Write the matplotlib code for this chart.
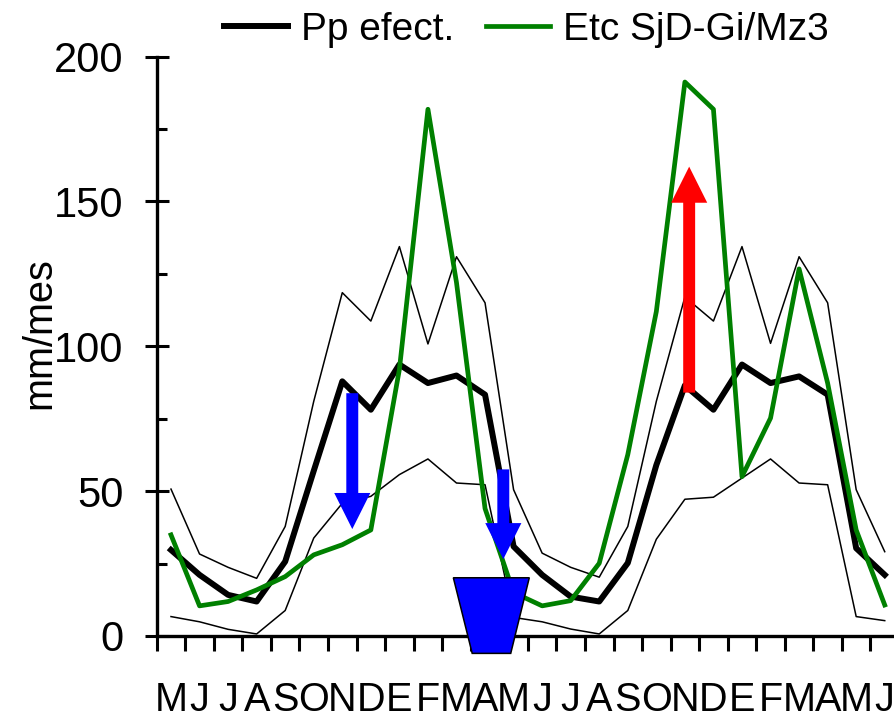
import matplotlib
matplotlib.use('Agg')
import matplotlib.pyplot as plt
from matplotlib.patches import FancyArrowPatch, Polygon

plt.rcParams['font.family'] = ['Liberation Sans', 'DejaVu Sans']

# month labels, May .. June two years later
months = ['M', 'J', 'J', 'A', 'S', 'O', 'N', 'D', 'E', 'F', 'M', 'A',
          'M', 'J', 'J', 'A', 'S', 'O', 'N', 'D', 'E', 'F', 'M', 'A',
          'M', 'J']

# effective precipitation (mean, upper and lower band), mm/month
pp_mean = [29.7, 21.1, 14.2, 11.9, 25.7, 57.0, 87.9, 78.1, 93.7, 87.3, 89.9, 83.3,
           30.9, 21.1, 13.6, 11.9, 25.2, 59.0, 86.5, 78.1, 93.7, 87.3, 89.6, 83.3,
           30.3, 21.1]
pp_upper = [50.7, 28.3, 23.7, 19.9, 37.8, 81.0, 118.5, 108.7, 134.4, 100.8, 130.9, 115.0,
            50.5, 28.6, 23.7, 20.3, 37.8, 81.0, 117.0, 108.7, 134.4, 101.0, 130.9, 115.0,
            50.5, 29.1]
pp_lower = [6.7, 4.9, 2.3, 0.7, 8.8, 33.8, 45.8, 48.2, 55.7, 61.1, 52.8, 52.2,
            6.4, 4.9, 2.4, 0.7, 8.8, 33.4, 47.2, 47.9, 54.5, 61.1, 52.8, 52.2,
            6.7, 5.3]

# crop evapotranspiration SjD-Gi/Mz3
etc = [34.9, 10.4, 11.9, 15.9, 20.5, 28.0, 31.5, 36.6, 92.0, 181.8, 122.0, 44.0,
       15.0, 10.4, 12.2, 25.1, 62.6, 112.0, 191.2, 181.8, 55.0, 75.2, 126.7, 87.3,
       36.6, 10.7]

# annotation arrows: (x, y_start, y_end, colour)
arrows = [(6.85, 83.8, 36.9, 'blue'),
          (12.14, 57.5, 26.5, 'blue'),
          (18.65, 84.0, 162.0, 'red')]

# bucket shape (x, y)
bucket_x = [10.39, 13.05, 12.40, 11.05]
bucket_y = [20.1, 20.1, -6.0, -6.0]

x = [i + 0.5 for i in range(len(months))]

fig = plt.figure(figsize=(8.94, 7.21), dpi=100)
ax = fig.add_axes([0.1753, 0.1179, 0.8303, 0.8037])

ax.plot(x, pp_upper, color='black', lw=1.1)
ax.plot(x, pp_lower, color='black', lw=1.1)
ax.plot(x, pp_mean, color='black', lw=4.3, label='Pp efect.')
ax.plot(x, etc, color='green', lw=3.4, label='Etc SjD-Gi/Mz3')

ax.add_patch(Polygon(list(zip(bucket_x, bucket_y)), closed=True, facecolor='blue',
                     edgecolor='black', lw=1.1, clip_on=False, zorder=5))

for ax_x, y0, y1, c in arrows:
    ar = FancyArrowPatch((ax_x, y0), (ax_x, y1),
                         arrowstyle='simple,head_length=26,head_width=26,tail_width=8.6',
                         mutation_scale=1, color=c, lw=0, shrinkA=0, shrinkB=0, zorder=6)
    ax.add_patch(ar)

ax.set_xlim(0, 26)
ax.set_ylim(0, 200)

ax.spines['top'].set_visible(False)
ax.spines['right'].set_visible(False)
ax.spines['left'].set_linewidth(2.4)
ax.spines['bottom'].set_linewidth(2.4)

ax.set_xticks(range(0, 27))
ax.set_xticklabels([])
ax.set_xticks(x, minor=True)
ax.set_xticklabels(months, minor=True, fontsize=28.5,
                   family=['Liberation Sans Narrow', 'Liberation Sans'])
ax.tick_params(axis='x', which='major', direction='out', length=10.8, width=2.2)
ax.tick_params(axis='x', which='minor', length=0, pad=32.5)

ax.set_yticks([0, 50, 100, 150, 200])
ax.set_yticks([25, 75, 125, 175], minor=True)
ax.tick_params(axis='y', which='major', direction='inout', length=16.8, width=2.2,
               labelsize=30, pad=15.5)
ax.tick_params(axis='y', which='minor', direction='in', length=7.2, width=2.2)

ax.set_ylabel('mm/mes', fontsize=28.5)
ax.yaxis.set_label_coords(-0.1324, 0.522)

ax.legend(loc='center', bbox_to_anchor=(0.4975, 1.0457), ncol=2, frameon=False,
          fontsize=28, handlelength=1.65, handletextpad=0.33, columnspacing=0.82,
          borderpad=0, borderaxespad=0)

fig.savefig('out.png', dpi=100)
